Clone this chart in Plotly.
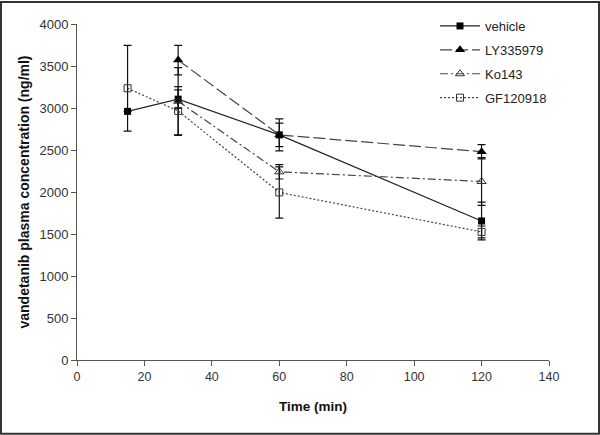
import plotly.graph_objects as go

times = [15, 30, 60, 120]
vehicle = [2960, 3105, 2680, 1655]
vehicle_err = [0, 110, 190, 225]
ly_times = [30, 60, 120]
ly335979 = [3570, 2680, 2480]
ly_err = [175, 140, 85]
ko_times = [30, 60, 120]
ko143 = [3080, 2240, 2125]
ko_err = [400, 85, 285]
gf120918 = [3235, 2965, 1995, 1525]
gf_err = [510, 290, 305, 70]

x_ticks = [0, 20, 40, 60, 80, 100, 120, 140]
y_ticks = [0, 500, 1000, 1500, 2000, 2500, 3000, 3500, 4000]

FONT = "Liberation Sans, Arial, sans-serif"

def err(arr):
    return dict(type="data", array=arr, visible=True, color="#111111", thickness=1.2, width=4)

fig = go.Figure()
fig.add_trace(go.Scatter(
    x=times, y=vehicle, name="vehicle", mode="lines+markers", legendgroup="a",
    line=dict(color="#222222", width=1.2, dash="solid"),
    marker=dict(symbol="square", size=7, color="#000000", line=dict(width=0)),
    error_y=err(vehicle_err)))
fig.add_trace(go.Scatter(
    x=ly_times, y=ly335979, name="LY335979", mode="lines+markers", legendgroup="b",
    line=dict(color="#444444", width=1.2, dash="12px,4px"),
    marker=dict(symbol="triangle-up", size=9, color="#000000", line=dict(width=0)),
    error_y=err(ly_err)))
fig.add_trace(go.Scatter(
    x=ko_times, y=ko143, name="Ko143", mode="lines+markers", legendgroup="c",
    line=dict(color="#444444", width=1.2, dash="8px,3px,2px,3px"),
    marker=dict(symbol="triangle-up-open", size=8, color="#333333", line=dict(width=1)),
    error_y=err(ko_err)))
fig.add_trace(go.Scatter(
    x=times, y=gf120918, name="GF120918", mode="lines+markers", legendgroup="d",
    line=dict(color="#444444", width=1.2, dash="2px,2px"),
    marker=dict(symbol="square-open", size=7, color="#333333", line=dict(width=1)),
    error_y=err(gf_err)))

W, H = 600, 435
l, r, t, b = 77, 51, 23, 75
pw, ph = W - l - r, H - t - b

fig.update_layout(
    width=W, height=H,
    margin=dict(l=l, r=r, t=t, b=b),
    paper_bgcolor="white", plot_bgcolor="white",
    font=dict(family=FONT, size=12, color="#222222"),
    showlegend=True,
    legend=dict(x=(435 - l) / pw, y=1 - (11 - t) / ph, xanchor="left", yanchor="top",
                bgcolor="rgba(0,0,0,0)", font=dict(size=13, family=FONT, color="#222222"),
                tracegroupgap=4, traceorder="grouped", itemwidth=40),
    xaxis=dict(range=[0, 140], tickvals=x_ticks, showgrid=False, zeroline=False,
               showline=True, linecolor="#555555", linewidth=1,
               ticks="outside", ticklen=5, tickcolor="#555555",
               tickfont=dict(size=12.5, family=FONT, color="#333333"),
               title=dict(text="<b>Time (min)</b>", font=dict(size=13.5, family=FONT, color="#111111"),
                          standoff=18)),
    yaxis=dict(range=[0, 4000], tickvals=y_ticks, showgrid=False, zeroline=False,
               showline=True, linecolor="#555555", linewidth=1,
               ticks="outside", ticklen=5, tickcolor="#555555",
               tickfont=dict(size=13, family=FONT, color="#333333"),
               title=dict(text="<b>vandetanib plasma concentration (ng/ml)</b>",
                          font=dict(size=14, family=FONT, color="#111111"), standoff=6)),
)

fig.add_shape(type="rect", xref="paper", yref="paper",
              x0=-(l - 1) / pw, x1=1 + (r - 1) / pw,
              y0=-(b - 1) / ph, y1=1 + (t - 1) / ph,
              line=dict(color="#333333", width=2), layer="above")

fig.write_html("out.html", config={"displayModeBar": False},
               post_script="document.body.style.margin='0';document.body.style.overflow='hidden';")
